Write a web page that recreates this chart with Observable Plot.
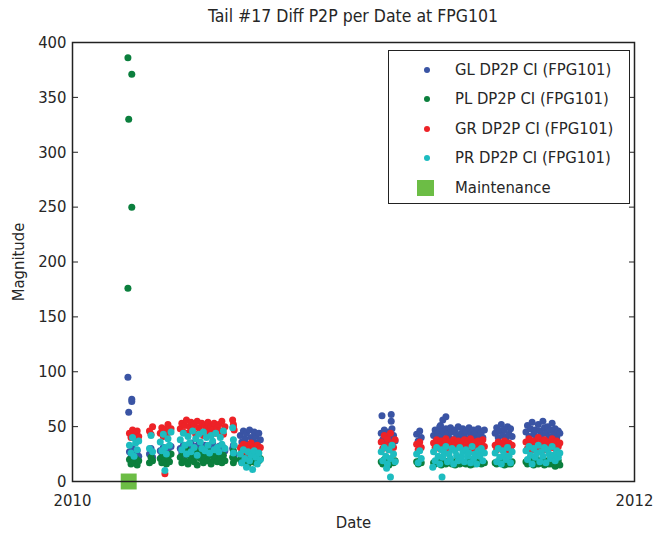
<!DOCTYPE html>
<html><head><meta charset="utf-8">
<script src="https://cdn.jsdelivr.net/npm/d3@7"></script>
<script src="https://cdn.jsdelivr.net/npm/@observablehq/plot@0.6"></script>
<style>
body{margin:0;background:#fff;}
#wrap{position:relative;width:657px;height:535px;font-family:"Liberation Sans Narrow","Arial Narrow","DejaVu Sans Condensed",sans-serif;color:#262626;}
#wrap svg{position:absolute;left:0;top:0;}
#title{position:absolute;left:72px;width:562px;top:4px;text-align:center;font-size:17.5px;line-height:24px;}
#legend{position:absolute;left:388px;top:50px;width:242px;height:154px;box-sizing:border-box;border:1.5px solid #222;background:#fff;}
.item{position:absolute;left:0;height:24px;line-height:24px;font-size:16.5px;white-space:nowrap;}
.mk{position:absolute;}
.lab{position:absolute;left:66px;top:0;}
</style></head>
<body>
<div id="wrap"><div id="title">Tail #17 Diff P2P per Date at FPG101</div></div>
<script>
const title = "Tail #17 Diff P2P per Date at FPG101";
const seriesNames = ["GL DP2P CI (FPG101)", "PL DP2P CI (FPG101)", "GR DP2P CI (FPG101)", "PR DP2P CI (FPG101)"];
const seriesColors = ["#3a54a4", "#0b7f3d", "#ed2227", "#1dbcc0"];
const maintName = "Maintenance";
const maintColor = "#6cbd45";
const maintDates = ["2010-03-15"];
const maintValues = [0];
const xTickDates = ["2010-01-01", "2012-01-01"];
const yTicks = [0, 50, 100, 150, 200, 250, 300, 350, 400];

const dates = [
 "2010-03-14","2010-03-19","2010-03-15","2010-03-19","2010-03-14",
 "2010-03-16","2010-03-18","2010-03-20","2010-03-22","2010-03-24","2010-03-26","2010-03-28",
 "2010-04-11","2010-04-13","2010-04-15",
 "2010-04-25","2010-04-27","2010-04-29","2010-05-01","2010-05-03","2010-05-05","2010-05-07","2010-05-09","2010-05-01",
 "2010-05-21","2010-05-23","2010-05-25","2010-05-27","2010-05-29","2010-05-31","2010-06-02","2010-06-04","2010-06-06","2010-06-08",
 "2010-06-10","2010-06-12","2010-06-14","2010-06-16","2010-06-18","2010-06-20","2010-06-22","2010-06-24","2010-06-26","2010-06-28",
 "2010-06-30","2010-07-02","2010-07-04","2010-07-06","2010-07-08","2010-07-10","2010-07-12","2010-07-14","2010-07-16","2010-07-18",
 "2010-07-28","2010-07-29","2010-07-29","2010-07-30",
 "2010-08-07","2010-08-09","2010-08-11","2010-08-13","2010-08-15","2010-08-17","2010-08-19","2010-08-21","2010-08-23","2010-08-25","2010-08-27","2010-08-29","2010-08-31","2010-09-02",
 "2011-02-06","2011-02-08","2011-02-10","2011-02-12","2011-02-14","2011-02-16","2011-02-18","2011-02-20","2011-02-22","2011-02-24",
 "2011-02-07","2011-02-19","2011-02-19","2011-02-13","2011-02-18",
 "2011-03-24","2011-03-26","2011-03-28","2011-03-30",
 "2011-04-15","2011-04-17","2011-04-19","2011-04-21","2011-04-23","2011-04-25","2011-04-27","2011-04-29","2011-05-01","2011-05-03",
 "2011-05-05","2011-05-07","2011-05-09","2011-05-11","2011-05-13","2011-05-15","2011-05-17","2011-05-19","2011-05-21","2011-05-23",
 "2011-05-25","2011-05-27","2011-05-29","2011-05-31","2011-06-02","2011-06-04","2011-06-06","2011-06-08","2011-06-10","2011-06-12",
 "2011-06-14","2011-06-16","2011-06-18","2011-06-20",
 "2011-04-24","2011-04-27","2011-05-01","2011-04-26","2011-04-14",
 "2011-07-04","2011-07-06","2011-07-08","2011-07-10","2011-07-12","2011-07-14","2011-07-16","2011-07-18","2011-07-20","2011-07-22","2011-07-24","2011-07-26",
 "2011-08-13","2011-08-15","2011-08-17","2011-08-19","2011-08-21","2011-08-23","2011-08-25","2011-08-27","2011-08-29","2011-08-31",
 "2011-09-02","2011-09-04","2011-09-06","2011-09-08","2011-09-10","2011-09-12","2011-09-14","2011-09-16","2011-09-18","2011-09-20",
 "2011-09-22","2011-09-24","2011-09-26"
];
const _ = null;
const gl = [
 95,75,63,73,_,
 27,22,30,24,19,28,23,
 25,30,22,
 28,23,31,26,21,29,25,32,_,
 30,26,33,28,24,31,27,35,29,25, 32,28,34,26,30,27,33,29,24,31, 28,35,26,30,27,32,29,25,31,28,
 30,26,33,24,
 42,36,46,39,44,34,47,40,37,45,41,35,44,38,
 44,38,47,41,36,45,39,48,42,37, 60,61,55,_,_,
 43,37,46,40,
 42,47,39,44,50,41,46,38,48,43, 40,49,45,38,47,42,50,39,44,48, 41,46,38,49,43,40,47,44,39,48, 42,45,40,47,
 51,56,59,_,_,
 44,49,40,46,52,42,47,39,50,43,48,41,
 45,51,41,48,54,43,47,40,52,46, 42,55,49,44,50,41,47,53,43,48, 40,46,44
];
const pl = [
 386,371,330,250,176,
 20,16,23,18,21,15,19,
 17,22,19,
 21,17,24,19,16,22,18,25,_,
 22,17,26,19,29,16,24,20,27,18, 23,15,28,21,25,17,22,30,19,24, 16,27,20,23,18,26,21,17,24,19,
 22,17,28,20,
 20,17,22,18,21,16,19,23,18,20,17,22,19,21,
 18,16,20,17,19,15,20,18,17,19, _,_,_,_,_,
 18,16,19,17,
 17,16,19,17,20,15,18,17,16,18, 19,17,16,18,15,17,20,16,18,17, 17,16,18,19,15,17,16,18,17,17, 19,16,18,17,
 _,_,_,_,_,
 17,16,18,17,19,17,15,18,16,17,16,18,
 18,16,19,17,19,15,17,20,16,18, 17,19,15,17,19,16,18,16,19,14, 17,19,15
];
const gr = [
 _,_,_,_,_,
 44,40,47,42,39,46,41,
 46,43,50,
 44,49,41,47,43,52,45,48,7,
 48,53,45,51,56,44,50,54,47,52, 43,55,49,46,53,42,51,48,54,45, 50,47,53,44,49,52,46,55,43,50,
 56,52,50,47,
 31,27,34,29,33,26,30,35,28,32,27,33,29,31,
 36,30,42,33,39,29,44,35,31,38, _,_,_,_,_,
 34,29,36,31,
 35,31,38,33,30,37,34,32,39,31, 36,33,30,38,35,31,37,33,34,30, 38,32,36,31,39,34,30,36,33,37, 31,35,38,32,
 _,_,_,_,_,
 33,29,36,31,34,30,37,32,29,35,31,33,
 36,30,39,33,29,37,31,34,40,30, 35,32,38,29,36,33,31,39,34,30, 37,32,35
];
const pr = [
 _,_,_,_,_,
 33,26,40,23,35,29,37,
 30,42,27,
 36,28,43,31,25,39,33,45,10,
 38,29,44,33,25,41,35,27,46,31, 39,24,43,36,30,45,28,40,33,26, 42,37,29,44,31,27,40,34,46,30,
 49,38,26,33,
 25,17,29,21,13,27,19,24,11,28,22,16,26,20,
 27,19,31,23,16,29,21,33,25,18, _,_,_,12,4,
 25,17,28,21,
 27,19,31,23,16,29,22,26,32,18, 25,21,30,16,28,24,19,31,22,27, 18,29,23,26,17,32,21,25,16,28, 23,30,19,26,
 _,_,_,4,13,
 26,18,30,22,16,28,24,20,31,23,17,27,
 28,20,32,24,16,30,22,26,33,18, 27,23,31,17,29,25,21,32,24,19, 28,22,26
];

const parse = d3.utcParse("%Y-%m-%d");
const rows = dates.map((d, i) => ({date: parse(d), gl: gl[i], pl: pl[i], gr: gr[i], pr: pr[i]}));
const maint = maintDates.map((d, i) => ({date: parse(d), v: maintValues[i]}));
const keys = ["gl", "pl", "gr", "pr"];
const font = '"Liberation Sans Narrow","Arial Narrow","DejaVu Sans Condensed",sans-serif';

const chart = Plot.plot({
  width: 657, height: 535,
  marginLeft: 72, marginRight: 23, marginTop: 42, marginBottom: 54,
  style: {fontFamily: font, fontSize: "16.5px", color: "#262626", background: "transparent", overflow: "visible"},
  x: {type: "utc", domain: [parse(xTickDates[0]), parse(xTickDates[1])]},
  y: {domain: [0, 400]},
  marks: [
    ...keys.map((k, j) => Plot.dot(rows, {x: "date", y: k, r: 3.5, fill: seriesColors[j], stroke: "none"})),
    Plot.dot(maint, {x: "date", y: "v", symbol: "square", r: 9, fill: maintColor, stroke: "none"}),
    Plot.frame({stroke: "#222", strokeWidth: 1.5}),
    Plot.axisY({ticks: yTicks, tickSize: -6, tickFormat: () => "", label: null, stroke: "#222"}),
    Plot.axisY({anchor: "right", ticks: yTicks, tickSize: -6, tickFormat: () => "", label: null, stroke: "#222"}),
    Plot.axisY({ticks: yTicks, tickSize: 0, tickPadding: 6, label: "Magnitude", labelAnchor: "center", labelArrow: "none", labelOffset: 60}),
    Plot.axisX({ticks: xTickDates.map(parse), tickFormat: "%Y", tickSize: 0, tickPadding: 13, label: "Date", labelAnchor: "center", labelArrow: "none", labelOffset: 46})
  ]
});
const wrap = document.getElementById("wrap");
wrap.insertBefore(chart, wrap.firstChild);

const legend = document.createElement("div");
legend.id = "legend";
const rowTops = [7, 36, 66, 95, 125];
seriesNames.forEach((name, i) => {
  const it = document.createElement("div");
  it.className = "item"; it.style.top = rowTops[i] + "px";
  it.innerHTML = `<span class="mk" style="left:35px;top:9px;width:6px;height:6px;border-radius:50%;background:${seriesColors[i]}"></span><span class="lab">${name}</span>`;
  legend.appendChild(it);
});
const it = document.createElement("div");
it.className = "item"; it.style.top = rowTops[4] + "px";
it.innerHTML = `<span class="mk" style="left:28px;top:4px;width:17px;height:16px;background:${maintColor}"></span><span class="lab">${maintName}</span>`;
legend.appendChild(it);
wrap.appendChild(legend);
</script>
</body></html>
